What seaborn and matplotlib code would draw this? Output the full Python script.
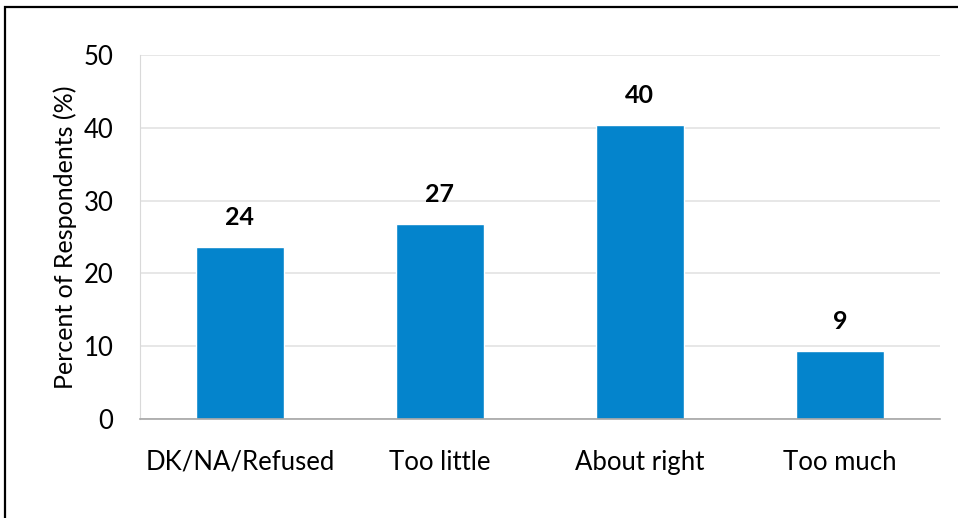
import seaborn as sns
import matplotlib.pyplot as plt
import pandas as pd
from matplotlib.patches import Rectangle

# Survey answers and share of respondents (%)
categories = ['DK/NA/Refused', 'Too little', 'About right', 'Too much']
percent = [23.6, 26.8, 40.4, 9.3]
y_ticks = [0, 10, 20, 30, 40, 50]

df = pd.DataFrame({'Answer': categories, 'Percent': percent})

sns.set_style('white')
plt.rcParams['font.family'] = ['Lato', 'DejaVu Sans']
plt.rcParams['text.color'] = 'black'
plt.rcParams['axes.labelcolor'] = 'black'
plt.rcParams['xtick.color'] = 'black'
plt.rcParams['ytick.color'] = 'black'

fig = plt.figure(figsize=(9.58, 5.18), dpi=100)
ax = fig.add_axes([0.146, 0.191, 0.835, 0.703])

sns.barplot(data=df, x='Answer', y='Percent', color='#0484CC', width=0.44,
            saturation=1, ax=ax)

# value labels above bars
ax.bar_label(ax.containers[0], labels=[f'{v:.0f}' for v in percent],
             padding=13, fontsize=18, fontweight='bold', color='black')

ax.set_ylim(0, 50)
ax.set_xlim(-0.5, 3.5)
ax.set_yticks(y_ticks)
ax.yaxis.grid(True, color='#e3e3e3', linewidth=1.2)
ax.set_axisbelow(True)
ax.set_xlabel('')
ax.set_ylabel('Percent of Respondents (%)', fontsize=18, labelpad=5)
ax.tick_params(axis='y', length=0, pad=19, labelsize=18.5)
ax.tick_params(axis='x', length=0, pad=22, labelsize=18.5)

for side in ['top', 'right']:
    ax.spines[side].set_visible(False)
ax.spines['left'].set_color('#d9d9d9')
ax.spines['bottom'].set_color('#a6a6a6')
ax.spines['bottom'].set_linewidth(1.2)

# outer frame around the chart (cut off at right and bottom)
fig.patches.append(Rectangle((0.0055, -0.2), 1.2, 0.1865 + 1.0, transform=fig.transFigure,
                             fill=False, edgecolor='black', linewidth=1.6))

fig.savefig('out.png', dpi=100)
